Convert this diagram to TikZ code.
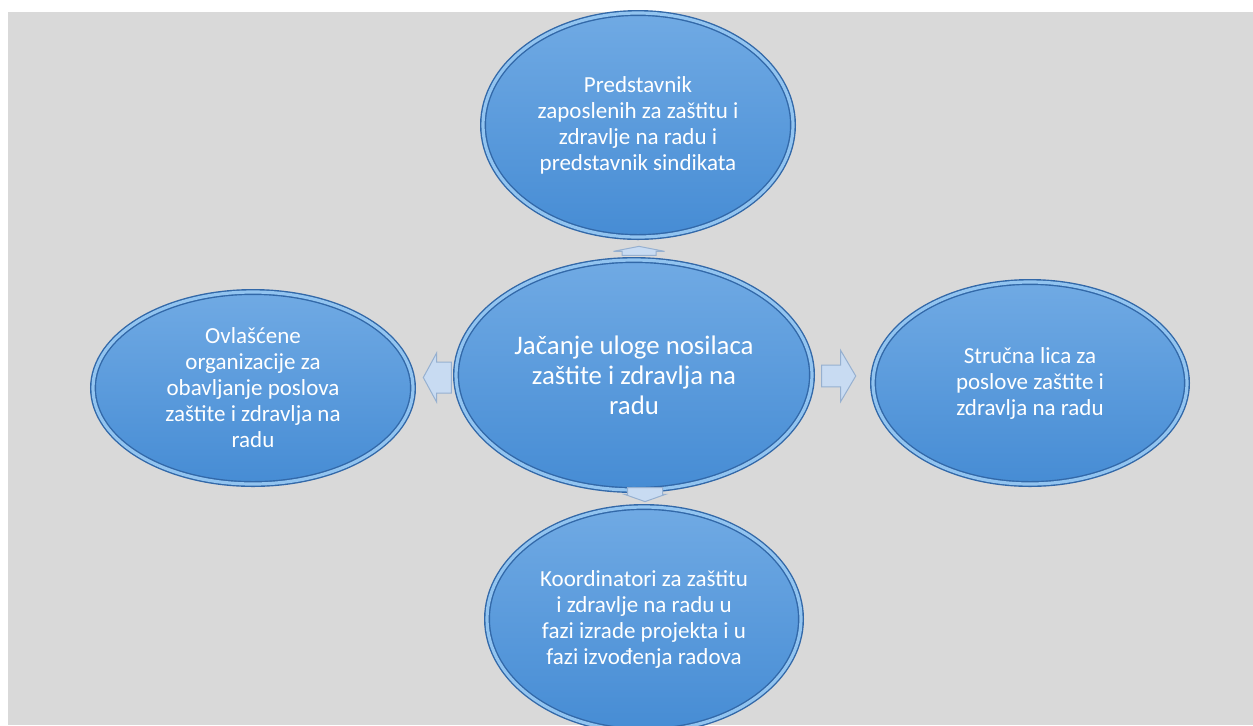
\documentclass[tikz,border=0pt]{standalone}
\usepackage{fontspec}
\setmainfont{Carlito}
\usepackage{tikz}
\usetikzlibrary{shapes.geometric,shapes.arrows,calc}
\definecolor{bg}{RGB}{217,217,217}
\definecolor{bluetop}{RGB}{112,170,228}
\definecolor{bluebot}{RGB}{70,140,212}
\definecolor{blueedge}{RGB}{50,104,168}
\definecolor{bluerim}{RGB}{146,196,240}
\definecolor{arrfill}{RGB}{200,219,242}
\definecolor{arredge}{RGB}{150,176,208}

\begin{document}
\begin{tikzpicture}[x=0.5pt,y=-0.5pt,
        bubble/.style={ellipse,top color=bluetop,bottom color=bluebot,draw=blueedge,double=bluerim,
            double distance=1.6pt,line width=0.7pt,inner sep=0pt,align=center,text=white,
            font=\fontsize{11.5}{13}\selectfont},
        blockarr/.style={single arrow,fill=arrfill,draw=arredge,line width=0.5pt,inner xsep=0pt}]
    \useasboundingbox (0,0) rectangle (1253,725);
    \fill[white] (0,0) rectangle (1253,725);
    \fill[bg] (8,12) rectangle (1253,725);

    \node [bubble,minimum width=178pt,minimum height=115pt,font=\fontsize{13.4}{15}\selectfont]
        (c) at (634,375) {Jačanje uloge nosilaca\\zaštite i zdravlja na\\radu};
    \node [bubble,minimum width=155pt,minimum height=112pt] (t) at (638,125)
        {Predstavnik\\zaposlenih za zaštitu i\\zdravlje na radu i\\predstavnik sindikata};
    \node [bubble,minimum width=160pt,minimum height=96pt] (l) at (253,388)
        {Ovlašćene\\organizacije za\\obavljanje poslova\\zaštite i zdravlja na\\radu};
    \node [bubble,minimum width=157pt,minimum height=101pt] (r) at (1030,383)
        {Stručna lica za\\poslove zaštite i\\zdravlja na radu};
    \node [bubble,minimum width=157pt,minimum height=112pt] (b) at (644,619)
        {Koordinatori za zaštitu\\i zdravlje na radu u\\fazi izrade projekta i u\\fazi izvođenja radova};

    \node [blockarr,rotate=90,inner ysep=8.25pt,minimum height=4.5pt,minimum width=25pt,
        single arrow head extend=4.25pt,single arrow tip angle=158] (at) at ($(c.north)!.5!(t.south)+(3,4)$) {};
    \node [blockarr,rotate=180,inner ysep=7.5pt,minimum height=14pt,minimum width=24pt,
        single arrow head extend=4.5pt,single arrow tip angle=123] (al) at ($(c.west)!.5!(l.east)+(7,-4)$) {};
    \node [blockarr,minimum height=17pt,minimum width=25.5pt,single arrow head extend=4.75pt,
        single arrow tip angle=119] (ar) at ($(c.east)!.5!(r.west)+(-7,-3)$) {};
    \node [blockarr,rotate=-90,inner ysep=8.5pt,minimum height=7pt,minimum width=20pt,
        single arrow head extend=1.5pt,single arrow tip angle=141] (ab) at ($(c.south)!.5!(b.north)+(6,-7)$) {};
\end{tikzpicture}
\end{document}
